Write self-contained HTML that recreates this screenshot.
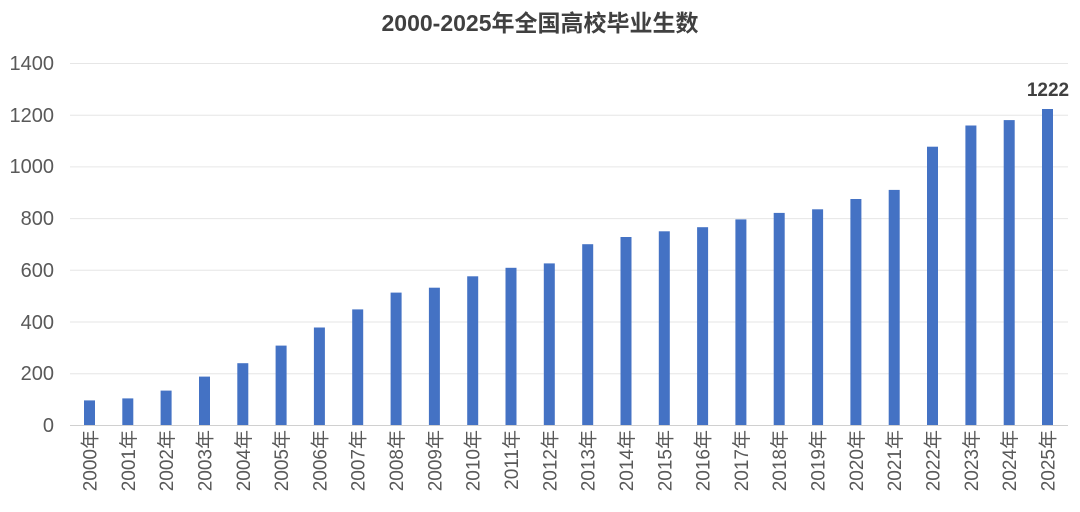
<!DOCTYPE html>
<html><head><meta charset="utf-8"><style>
html,body{margin:0;padding:0;background:#fff;}
svg{display:block;}
text{font-family:"Liberation Sans","Noto Sans CJK SC",sans-serif;}
</style></head><body>
<svg width="1080" height="512" viewBox="0 0 1080 512" xmlns="http://www.w3.org/2000/svg">
<rect x="0" y="0" width="1080" height="512" fill="#fff"/>
<text x="540" y="31" text-anchor="middle" font-size="23" font-weight="bold" fill="#404040">2000-2025年全国高校毕业生数</text>
<g stroke="#e6e6e6" stroke-width="1">
<line x1="70" x2="1068" y1="63.5" y2="63.5"/>
<line x1="70" x2="1068" y1="115.2" y2="115.2"/>
<line x1="70" x2="1068" y1="166.9" y2="166.9"/>
<line x1="70" x2="1068" y1="218.6" y2="218.6"/>
<line x1="70" x2="1068" y1="270.3" y2="270.3"/>
<line x1="70" x2="1068" y1="322" y2="322"/>
<line x1="70" x2="1068" y1="373.7" y2="373.7"/>
</g>
<line x1="70" x2="1068" y1="425.5" y2="425.5" stroke="#d0d0d0"/>
<g font-size="20" fill="#595959" text-anchor="end">
<text x="54" y="70">1400</text>
<text x="54" y="122">1200</text>
<text x="54" y="173">1000</text>
<text x="54" y="225">800</text>
<text x="54" y="277">600</text>
<text x="54" y="329">400</text>
<text x="54" y="380">200</text>
<text x="54" y="432">0</text>
</g>
<g fill="#4472c4">
<rect x="84" y="400.4" width="11" height="24.6"/>
<rect x="122.3" y="398.4" width="11" height="26.6"/>
<rect x="160.6" y="390.6" width="11" height="34.4"/>
<rect x="199" y="376.6" width="11" height="48.4"/>
<rect x="237.3" y="363.2" width="11" height="61.8"/>
<rect x="275.6" y="345.6" width="11" height="79.4"/>
<rect x="313.9" y="327.5" width="11" height="97.5"/>
<rect x="352.2" y="309.4" width="11" height="115.6"/>
<rect x="390.6" y="292.6" width="11" height="132.4"/>
<rect x="428.9" y="287.7" width="11" height="137.3"/>
<rect x="467.2" y="276.3" width="11" height="148.7"/>
<rect x="505.5" y="267.8" width="11" height="157.2"/>
<rect x="543.8" y="263.4" width="11" height="161.6"/>
<rect x="582.2" y="244.2" width="11" height="180.8"/>
<rect x="620.5" y="237" width="11" height="188"/>
<rect x="658.8" y="231.3" width="11" height="193.7"/>
<rect x="697.1" y="227.2" width="11" height="197.8"/>
<rect x="735.4" y="219.4" width="11" height="205.6"/>
<rect x="773.7" y="212.9" width="11" height="212.1"/>
<rect x="812.1" y="209.3" width="11" height="215.7"/>
<rect x="850.4" y="199" width="11" height="226"/>
<rect x="888.7" y="189.9" width="11" height="235.1"/>
<rect x="927" y="146.7" width="11" height="278.3"/>
<rect x="965.4" y="125.5" width="11" height="299.5"/>
<rect x="1003.7" y="120.1" width="11" height="304.9"/>
<rect x="1042" y="109" width="11" height="316"/>
</g>
<text x="1048" y="96" text-anchor="middle" font-size="19" font-weight="bold" fill="#404040">1222</text>
<g font-size="19" fill="#595959" text-anchor="end">
<text transform="translate(96.5,430) rotate(-90)">2000年</text>
<text transform="translate(134.8,430) rotate(-90)">2001年</text>
<text transform="translate(173.1,430) rotate(-90)">2002年</text>
<text transform="translate(211.5,430) rotate(-90)">2003年</text>
<text transform="translate(249.8,430) rotate(-90)">2004年</text>
<text transform="translate(288.1,430) rotate(-90)">2005年</text>
<text transform="translate(326.4,430) rotate(-90)">2006年</text>
<text transform="translate(364.7,430) rotate(-90)">2007年</text>
<text transform="translate(403.1,430) rotate(-90)">2008年</text>
<text transform="translate(441.4,430) rotate(-90)">2009年</text>
<text transform="translate(479.7,430) rotate(-90)">2010年</text>
<text transform="translate(518,430) rotate(-90)">2011年</text>
<text transform="translate(556.3,430) rotate(-90)">2012年</text>
<text transform="translate(594.7,430) rotate(-90)">2013年</text>
<text transform="translate(633,430) rotate(-90)">2014年</text>
<text transform="translate(671.3,430) rotate(-90)">2015年</text>
<text transform="translate(709.6,430) rotate(-90)">2016年</text>
<text transform="translate(747.9,430) rotate(-90)">2017年</text>
<text transform="translate(786.2,430) rotate(-90)">2018年</text>
<text transform="translate(824.6,430) rotate(-90)">2019年</text>
<text transform="translate(862.9,430) rotate(-90)">2020年</text>
<text transform="translate(901.2,430) rotate(-90)">2021年</text>
<text transform="translate(939.5,430) rotate(-90)">2022年</text>
<text transform="translate(977.9,430) rotate(-90)">2023年</text>
<text transform="translate(1016.2,430) rotate(-90)">2024年</text>
<text transform="translate(1054.5,430) rotate(-90)">2025年</text>
</g>
</svg>
</body></html>
